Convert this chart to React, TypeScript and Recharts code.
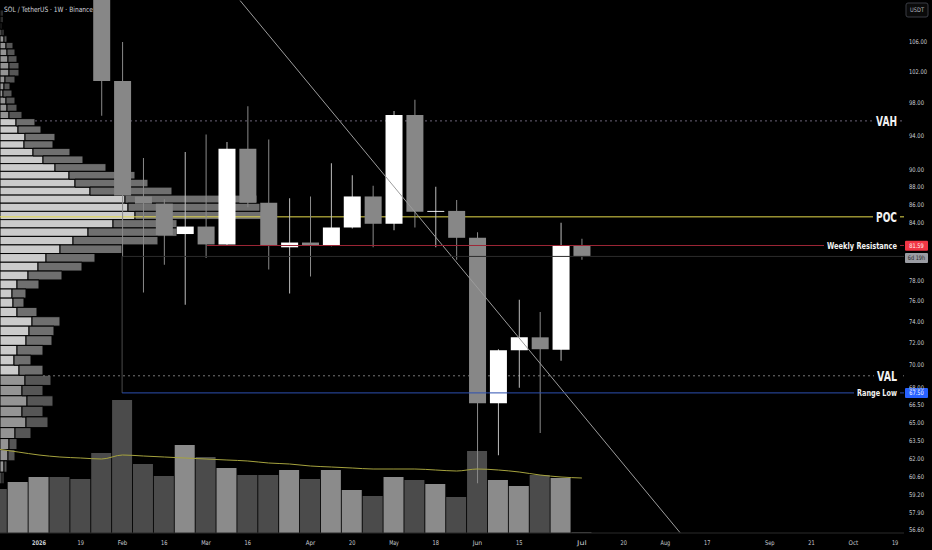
import type { JSX } from 'react'
import {
  Bar,
  Cell,
  ComposedChart,
  Line,
  ReferenceArea,
  ReferenceLine,
  XAxis,
  YAxis,
} from 'recharts'

const CHART_WIDTH = 932
const CHART_HEIGHT = 550
const PRICE_AXIS_WIDTH = 28
const TIME_AXIS_HEIGHT = 17
const FONT = "'DejaVu Sans', 'Noto Sans', sans-serif"

// week 0 = week of Mon 5 Jan 2026
const X_MIN = -1.868
const X_MAX = 41.427
const PRICE_DOMAIN = [56.37, 111.88]
const VOLUME_DOMAIN = [0, 53.3]

const WEEK_INDEX = [
  -2, -1, 0, 1, 2, 3, 4, 5, 6, 7, 8, 9, 10, 11, 12, 13, 14, 15, 16, 17, 18, 19,
  20, 21, 22, 23, 24, 25, 26,
]
const OPEN = [
  null, null, null, null, null, 114.0, 100.8, 86.9, 86.1, 82.8, 83.6, 81.7,
  92.4, 86.2, 81.4, 81.9, 81.6, 83.5, 86.9, 83.9, 96.5, 85.2, 85.3, 82.4, 66.6,
  71.3, 72.5, 71.35, 81.55,
]
const HIGH = [
  null, null, null, null, null, 114.5, 106.0, 91.3, 86.6, 92.0, 94.1, 93.2,
  97.6, 93.5, 86.7, 86.9, 90.7, 89.3, 88.1, 97.0, 98.4, 88.0, 86.5, 83.0, 71.4,
  76.1, 74.9, 84.0, 82.3,
]
const LOW = [
  null, null, null, null, null, 96.4, 80.4, 76.8, 79.6, 75.6, 80.3, 81.6, 85.7,
  79.1, 76.7, 78.4, 81.5, 83.4, 81.4, 83.2, 83.5, 81.4, 80.1, 60.1, 62.3, 67.95,
  64.1, 70.35, 80.1,
]
const CLOSE = [
  null, null, null, null, null, 100.8, 87.0, 86.1, 82.7, 83.6, 81.7, 92.4, 86.2,
  81.55, 81.9, 81.6, 83.5, 86.9, 83.9, 96.5, 85.2, 85.3, 82.4, 66.6, 71.3, 72.5,
  71.4, 81.55, 80.5,
]
// direction of the weeks whose candles sit above the visible range
const EARLY_UP = [false, true, true, false, false]
// volume in millions SOL and its moving average
const VOLUME = [
  4.4, 5.1, 5.6, 5.6, 5.4, 8.0, 13.3, 6.9, 5.7, 8.8, 7.6, 6.5, 5.8, 5.8, 6.3,
  5.4, 6.3, 4.3, 3.7, 5.6, 5.3, 4.9, 3.6, 8.2, 5.3, 4.7, 5.8, 5.5, 0.1,
]
const VOLUME_MA = [
  8.4, 8.1, 7.8, 7.6, 7.5, 7.4, 7.8, 7.7, 7.6, 7.5, 7.4, 7.3, 7.2, 7.0, 6.9,
  6.7, 6.6, 6.5, 6.4, 6.4, 6.4, 6.3, 6.2, 6.4, 6.3, 6.1, 5.8, 5.6, 5.5,
]

const TIME_TICKS = [0, 2, 4, 6, 8, 10, 13, 15, 17, 19, 21, 23, 26, 28, 30, 32, 35, 37, 39, 41]
const TIME_LABELS = [
  '2026', '19', 'Feb', '16', 'Mar', '16', 'Apr', '20', 'May', '18', 'Jun', '15',
  'Jul', '20', 'Aug', '17', 'Sep', '21', 'Oct', '19',
]
// 82.00 and 80.00 sit under the price tags
const PRICE_TICKS = [
  106, 102, 98, 94, 90, 88, 86, 84, 78, 76, 74, 72, 70, 68, 66.5, 65, 63.5, 62,
  60.6, 59.2, 57.9, 56.6,
]

// visible range volume profile, rows of 0.9 USDT from the top
const PROFILE_TOP_ROW = 110.0
const PROFILE_ROW_SIZE = 0.9
const PROFILE_AXIS_MAX = 904
const PROFILE_UP = [
  1, 1, 1, 2, 4, 6, 7, 8, 9, 9, 5, 4, 3, 6, 7, 9, 16, 18, 25, 24, 33, 43, 55,
  69, 75, 90, 125, 128, 135, 113, 88, 73, 60, 46, 38, 28, 17, 12, 13, 17, 32,
  29, 26, 17, 14, 19, 25, 22, 27, 22, 26, 15, 9, 8, 4, 2,
]
const PROFILE_DOWN = [
  2, 2, 1, 2, 3, 7, 8, 9, 10, 10, 10, 6, 9, 9, 10, 13, 19, 23, 30, 29, 37, 40,
  51, 66, 73, 82, 132, 132, 127, 64, 89, 85, 62, 49, 44, 34, 22, 14, 11, 20, 28,
  25, 26, 26, 17, 24, 26, 21, 26, 21, 22, 16, 8, 7, 3, 2,
]
const VAH = 95.77
const POC = 84.65
const VAL = 69.0

// drawings
const TREND_LINE = [
  { x: 9.63, y: 111.8 },
  { x: 30.7, y: 56.4 },
]
const BOX_START_WEEK = 3.98
const RESISTANCE_START_WEEK = 8.05
const WEEKLY_RESISTANCE = 81.59
const CURRENT_PRICE = 80.45
const RANGE_LOW = 67.5

const weeks = WEEK_INDEX.map((t, i) => {
  const o = OPEN[i]
  const c = CLOSE[i]
  const hasCandle = o != null && c != null
  return {
    t,
    vol: VOLUME[i],
    volMa: VOLUME_MA[i],
    wick: hasCandle ? [LOW[i], HIGH[i]] : null,
    body: hasCandle ? [Math.min(o, c), Math.max(o, c)] : null,
    up: hasCandle ? c >= o : EARLY_UP[i],
  }
})

const profileRows = PROFILE_UP.map((up, i) => {
  const mid = PROFILE_TOP_ROW - i * PROFILE_ROW_SIZE
  return {
    i,
    lo: mid - PROFILE_ROW_SIZE / 2,
    hi: mid + PROFILE_ROW_SIZE / 2,
    up,
    down: PROFILE_DOWN[i],
    inside: mid > VAL && mid < VAH,
  }
})

type TickProps = { x?: number; y?: number; payload?: { value: number } }

function PriceTick({ x = 0, y = 0, payload }: TickProps) {
  const label = (payload?.value ?? 0).toFixed(2)
  return (
    <text
      x={x}
      y={y + 2.4}
      fontSize={6.4}
      fill="#c9ccd3"
      fontFamily={FONT}
      textLength={label.length * 3}
      lengthAdjust="spacingAndGlyphs"
    >
      {label}
    </text>
  )
}

// baseline of the date labels under the plot
const TIME_LABEL_BASELINE = CHART_HEIGHT - TIME_AXIS_HEIGHT + 11.5

function TimeTick({ x = 0, payload }: TickProps) {
  const label = TIME_LABELS[TIME_TICKS.indexOf(payload?.value ?? 0)] ?? ''
  const isYear = label === '2026'
  return (
    <text
      x={x}
      y={TIME_LABEL_BASELINE}
      fontSize={6.4}
      fontWeight={isYear ? 700 : 400}
      fill="#c9ccd3"
      fontFamily={FONT}
      textAnchor="middle"
      textLength={isYear ? 14 : label.length * 3.2}
      lengthAdjust="spacingAndGlyphs"
    >
      {label}
    </text>
  )
}

type ViewBox = { x: number; y: number; width: number; height: number }

function caption(
  vb: ViewBox,
  text: string,
  textWidth: number,
  fontSize: number,
): JSX.Element {
  const right = vb.x + vb.width - 7
  return (
    <g>
      <rect
        x={right - textWidth - 3}
        y={vb.y - fontSize * 0.6}
        width={textWidth + 6}
        height={fontSize * 1.2}
        fill="#000"
      />
      <text
        x={right}
        y={vb.y + fontSize * 0.36}
        textAnchor="end"
        textLength={textWidth}
        lengthAdjust="spacingAndGlyphs"
        fontSize={fontSize}
        fontWeight={700}
        fill="#f2f2f2"
        fontFamily={FONT}
      >
        {text}
      </text>
    </g>
  )
}

function axisTag(
  vb: ViewBox,
  text: string,
  fill: string,
  color: string,
  dy = 0,
): JSX.Element {
  const left = vb.x + vb.width + 1
  const cy = vb.y + dy
  return (
    <g>
      <rect x={left} y={cy - 5} width={23} height={10} rx={1} fill={fill} />
      <text
        x={left + 11.5}
        y={cy + 2.3}
        textAnchor="middle"
        fontSize={6.2}
        fill={color}
        fontFamily={FONT}
        textLength={text.length * 2.9}
        lengthAdjust="spacingAndGlyphs"
      >
        {text}
      </text>
    </g>
  )
}

const getViewBox = (props: any): ViewBox => props.viewBox ?? props

function PriceChart() {
  return (
    <ComposedChart
      width={CHART_WIDTH}
      height={CHART_HEIGHT}
      data={weeks}
      margin={{ top: 0, right: 0, bottom: 0, left: 0 }}
    >
      <XAxis
        xAxisId="t"
        type="number"
        dataKey="t"
        domain={[X_MIN, X_MAX]}
        allowDataOverflow
        ticks={TIME_TICKS}
        interval={0}
        height={TIME_AXIS_HEIGHT}
        tickLine={false}
        tickSize={0}
        tickMargin={0}
        axisLine={{ stroke: '#2a2a2a' }}
        tick={<TimeTick />}
      />
      <XAxis
        xAxisId="w"
        type="number"
        dataKey="t"
        domain={[X_MIN, X_MAX]}
        allowDataOverflow
        height={0}
        hide
      />
      <XAxis
        xAxisId="v"
        type="number"
        dataKey="t"
        domain={[X_MIN, X_MAX]}
        allowDataOverflow
        height={0}
        hide
      />
      <XAxis
        xAxisId="pv"
        orientation="top"
        type="number"
        dataKey="t"
        domain={[0, PROFILE_AXIS_MAX]}
        allowDataOverflow
        height={0}
        hide
      />
      <YAxis
        yAxisId="p"
        orientation="right"
        type="number"
        scale="log"
        domain={PRICE_DOMAIN}
        allowDataOverflow
        ticks={PRICE_TICKS}
        interval={0}
        width={PRICE_AXIS_WIDTH}
        axisLine={false}
        tickLine={false}
        tickSize={0}
        tickMargin={5}
        tick={<PriceTick />}
      />
      <YAxis yAxisId="v" type="number" domain={VOLUME_DOMAIN} allowDataOverflow width={0} hide />

      {/* volume profile, beneath everything */}
      {profileRows.map((r) => (
        <ReferenceArea
          key={`up-${r.i}`}
          xAxisId="pv"
          yAxisId="p"
          x1={0}
          x2={r.up}
          y1={r.lo}
          y2={r.hi}
          fill={r.inside ? '#cbcbcb' : '#949494'}
          fillOpacity={1}
          stroke="#000"
          strokeWidth={1}
          ifOverflow="hidden"
          zIndex={50}
        />
      ))}
      {profileRows.map((r) => (
        <ReferenceArea
          key={`down-${r.i}`}
          xAxisId="pv"
          yAxisId="p"
          x1={r.up}
          x2={r.up + r.down}
          y1={r.lo}
          y2={r.hi}
          fill={r.inside ? '#6f6f6f' : '#565656'}
          fillOpacity={1}
          stroke="#000"
          strokeWidth={1}
          ifOverflow="hidden"
          zIndex={50}
        />
      ))}
      <ReferenceLine
        xAxisId="pv"
        yAxisId="p"
        segment={[
          { x: 35, y: VAH },
          { x: PROFILE_AXIS_MAX, y: VAH },
        ]}
        stroke="#6c6478"
        strokeDasharray="2 3"
        zIndex={250}
        label={(p: any) => caption(getViewBox(p), 'VAH', 21, 13.5)}
      />
      <ReferenceLine
        xAxisId="pv"
        yAxisId="p"
        y={POC}
        stroke="#e6da4c"
        strokeWidth={1}
        zIndex={250}
        label={(p: any) => caption(getViewBox(p), 'POC', 21, 13.5)}
      />
      <ReferenceLine
        xAxisId="pv"
        yAxisId="p"
        segment={[
          { x: 43, y: VAL },
          { x: PROFILE_AXIS_MAX, y: VAL },
        ]}
        stroke="#777777"
        strokeDasharray="2 3"
        zIndex={250}
        label={(p: any) => caption(getViewBox(p), 'VAL', 20, 13.5)}
      />

      <Bar xAxisId="v" yAxisId="v" dataKey="vol" barSize={20} isAnimationActive={false}>
        {weeks.map((w, i) => (
          <Cell key={i} fill={w.up ? '#8b8b8b' : '#4b4b4b'} />
        ))}
      </Bar>
      <Line
        xAxisId="v"
        yAxisId="v"
        dataKey="volMa"
        type="monotone"
        stroke="#a6a33e"
        strokeWidth={1}
        dot={false}
        activeDot={false}
        isAnimationActive={false}
      />
      <Bar xAxisId="w" yAxisId="p" dataKey="wick" barSize={1} isAnimationActive={false}>
        {weeks.map((w, i) => (
          <Cell key={i} fill={w.up ? '#bdbdbd' : '#8a8a8a'} />
        ))}
      </Bar>
      <Bar xAxisId="t" yAxisId="p" dataKey="body" barSize={17} isAnimationActive={false}>
        {weeks.map((w, i) => (
          <Cell key={i} fill={w.up ? '#ffffff' : '#878787'} />
        ))}
      </Bar>

      <ReferenceLine
        xAxisId="t"
        yAxisId="p"
        segment={TREND_LINE}
        stroke="#9c9c9c"
        strokeWidth={1}
        ifOverflow="visible"
      />
      <ReferenceLine
        xAxisId="t"
        yAxisId="p"
        segment={[
          { x: BOX_START_WEEK, y: CURRENT_PRICE },
          { x: X_MAX, y: CURRENT_PRICE },
        ]}
        stroke="#2c2c2c"
        label={(p: any) => axisTag(getViewBox(p), '6d 19h', '#9a9ca3', '#222222', 1.5)}
      />
      <ReferenceLine
        xAxisId="t"
        yAxisId="p"
        segment={[
          { x: BOX_START_WEEK, y: CURRENT_PRICE },
          { x: BOX_START_WEEK, y: RANGE_LOW },
        ]}
        stroke="#4a4a4a"
      />
      <ReferenceLine
        xAxisId="t"
        yAxisId="p"
        segment={[
          { x: BOX_START_WEEK, y: RANGE_LOW },
          { x: X_MAX, y: RANGE_LOW },
        ]}
        stroke="#2d50b0"
        label={(p: any) => {
          const vb = getViewBox(p)
          return (
            <g>
              {caption(vb, 'Range Low', 40, 9.2)}
              {axisTag(vb, '67.50', '#2962ff', '#ffffff')}
            </g>
          )
        }}
      />
      <ReferenceLine
        xAxisId="t"
        yAxisId="p"
        segment={[
          { x: RESISTANCE_START_WEEK, y: WEEKLY_RESISTANCE },
          { x: X_MAX, y: WEEKLY_RESISTANCE },
        ]}
        stroke="#9c2636"
        label={(p: any) => {
          const vb = getViewBox(p)
          return (
            <g>
              {caption(vb, 'Weekly Resistance', 70, 9.2)}
              {axisTag(vb, '81.59', '#f23645', '#ffffff', 0.3)}
            </g>
          )
        }}
      />
    </ComposedChart>
  )
}

export default function App() {
  return (
    <div
      style={{
        position: 'fixed',
        left: 0,
        top: 0,
        width: CHART_WIDTH,
        height: CHART_HEIGHT,
        background: '#000',
        overflow: 'hidden',
      }}
    >
      <div style={{ position: 'absolute', left: 0, top: 0 }}>
        <PriceChart />
      </div>
      <svg
        width={CHART_WIDTH}
        height={CHART_HEIGHT}
        style={{ position: 'absolute', left: 0, top: 0, pointerEvents: 'none' }}
      >
        <text
          x={4}
          y={11.7}
          fontSize={7.3}
          fill="#d1d4dc"
          fontFamily={FONT}
          textLength={89}
          lengthAdjust="spacingAndGlyphs"
        >
          SOL / TetherUS · 1W · Binance
        </text>
        <rect x={906} y={3} width={22} height={14} rx={2} fill="#0a0a0a" stroke="#3a3d45" />
        <text
          x={917}
          y={12.4}
          textAnchor="middle"
          fontSize={6.2}
          fill="#b2b5be"
          fontFamily={FONT}
          textLength={14}
          lengthAdjust="spacingAndGlyphs"
        >
          USDT
        </text>
      </svg>
    </div>
  )
}
